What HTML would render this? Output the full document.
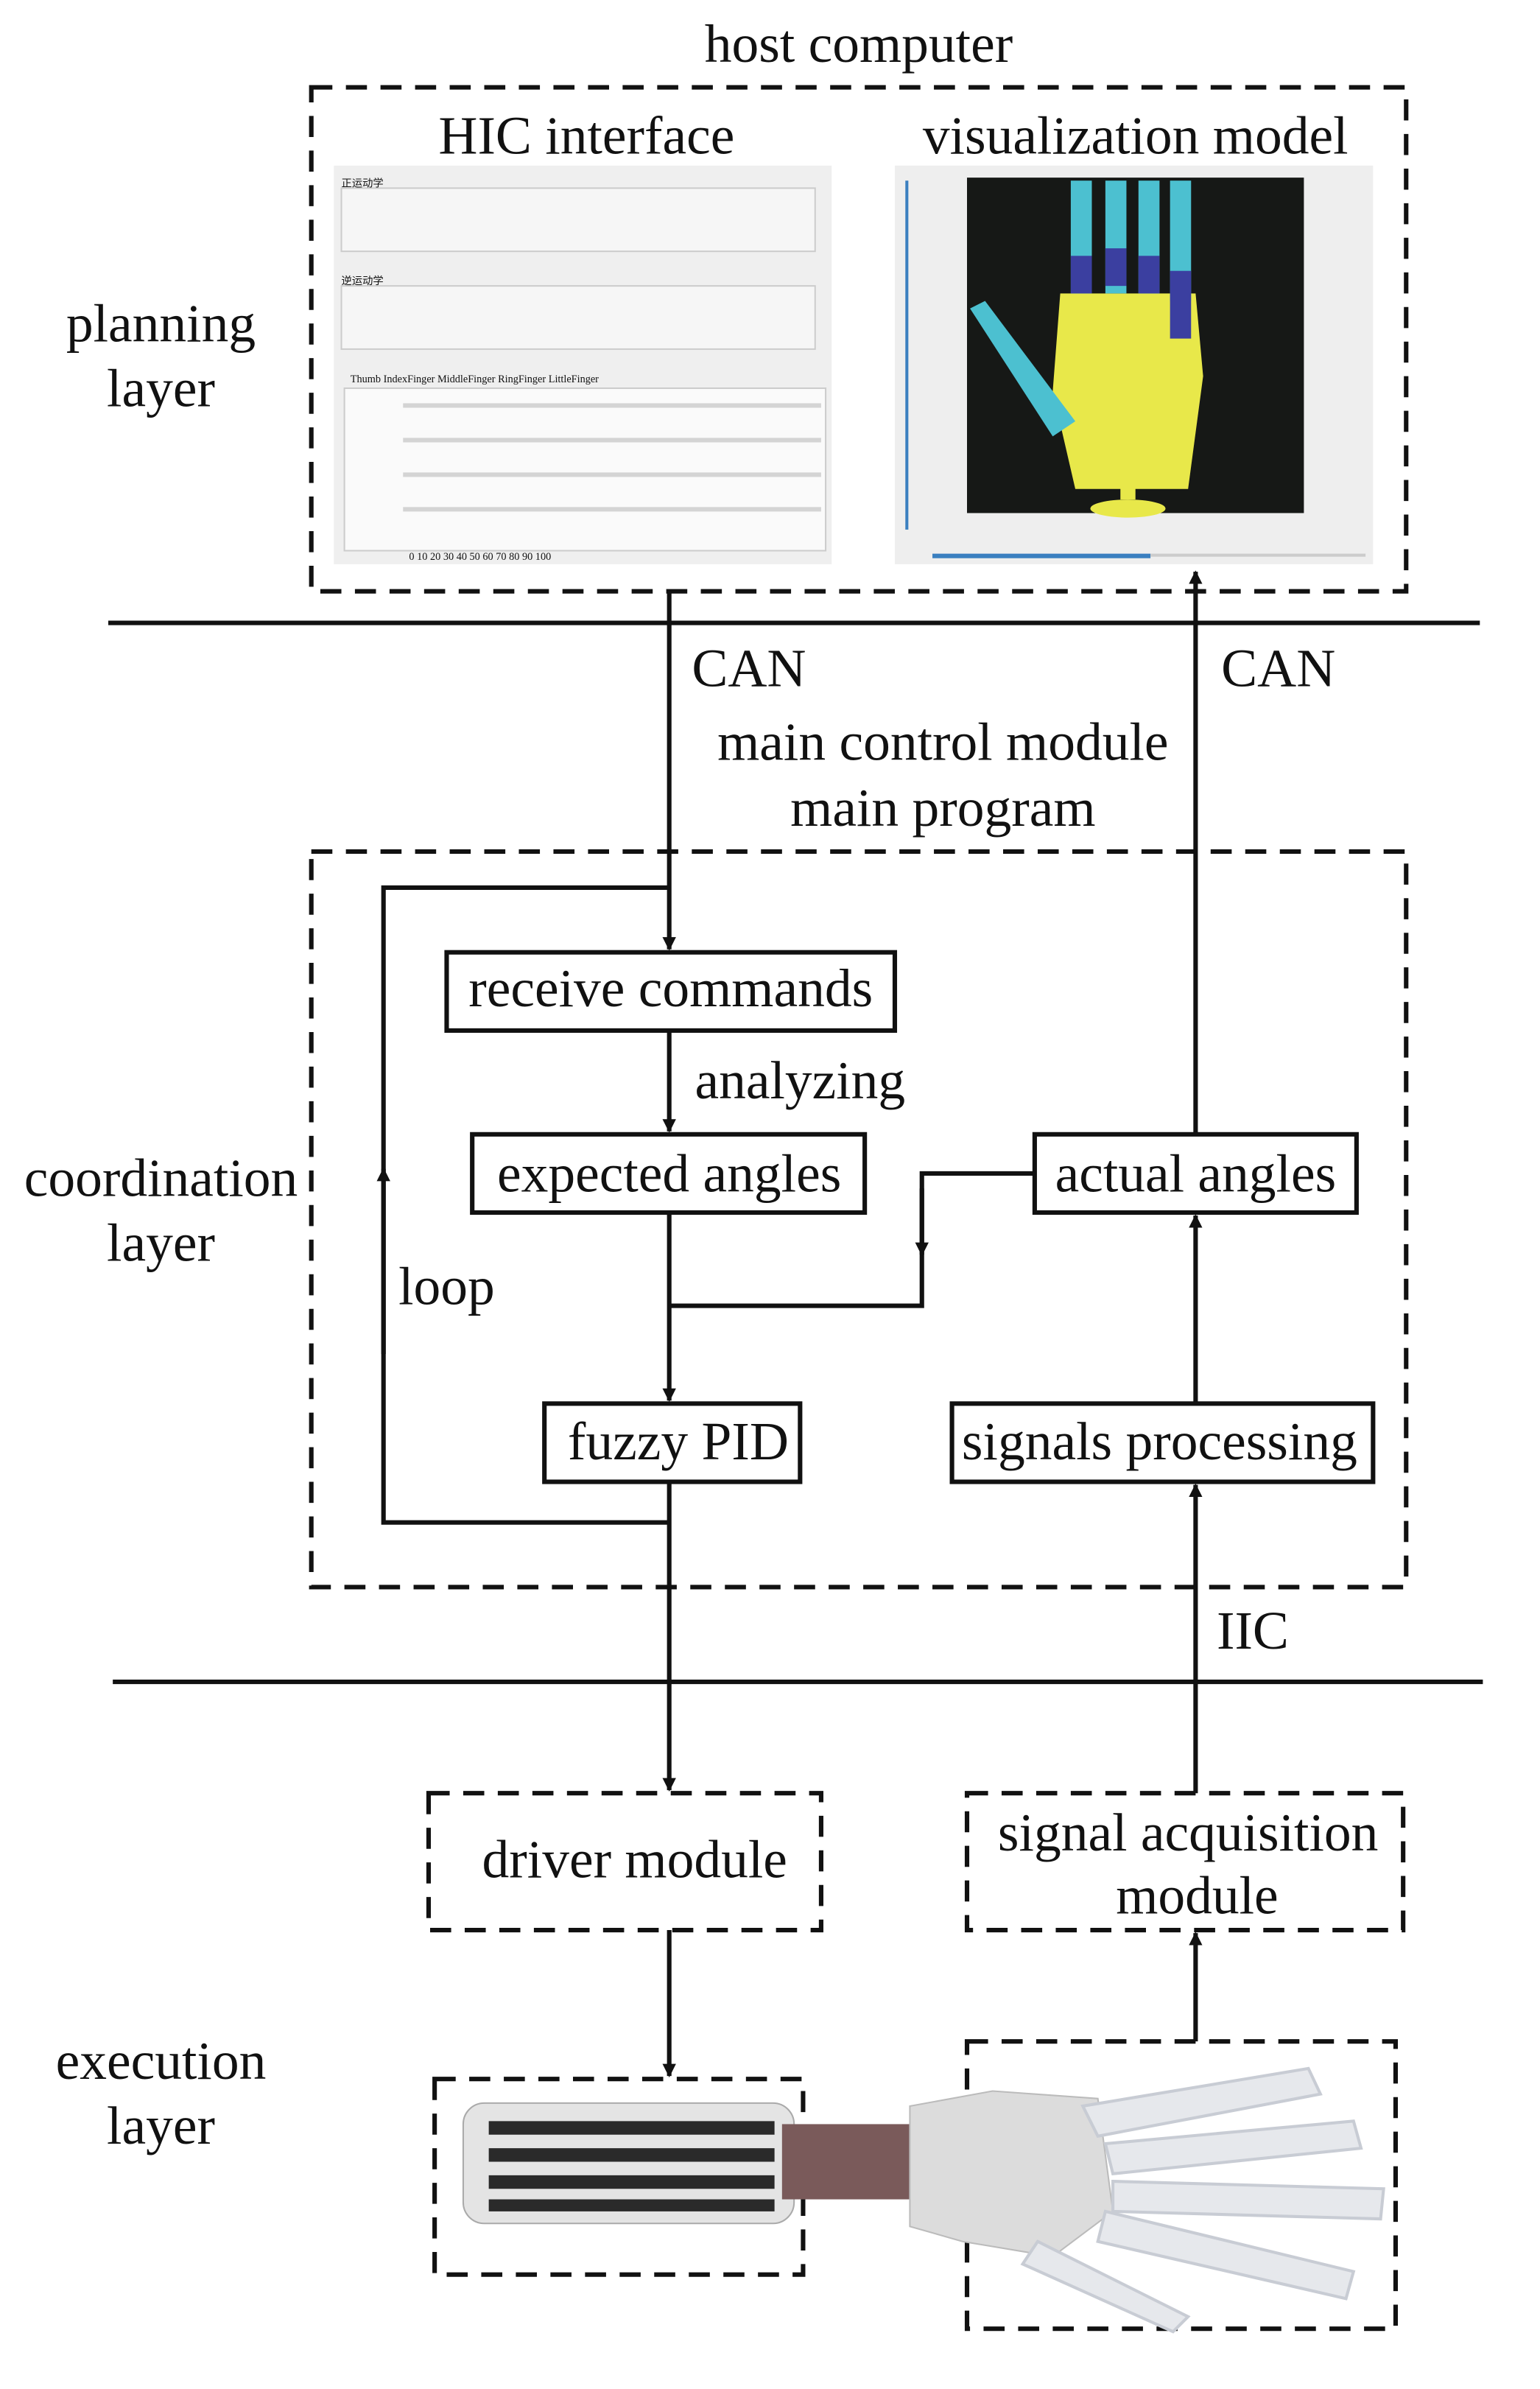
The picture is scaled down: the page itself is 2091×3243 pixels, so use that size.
<!DOCTYPE html>
<html><head><meta charset="utf-8"><style>
html,body{margin:0;padding:0;background:#fff}
svg{display:block}
text{font-family:"Liberation Serif",serif;fill:#111}
</style></head><body>
<svg width="2091" height="3243" viewBox="0 0 1024 1588" xmlns="http://www.w3.org/2000/svg">
<defs>
<marker id="ar" viewBox="0 0 10 10" refX="9" refY="5" markerWidth="9" markerHeight="14" orient="auto" markerUnits="userSpaceOnUse">
<path d="M0,0 L10,5 L0,10 z" fill="#111"/></marker>
</defs>
<g font-size="36" text-anchor="middle">
<text x="571" y="41">host computer</text>
<text x="390" y="102">HIC interface</text>
<text x="755" y="102">visualization model</text>
<text x="107" y="227">planning</text>
<text x="107" y="270">layer</text>
<text x="498" y="456">CAN</text>
<text x="850" y="456">CAN</text>
<text x="627" y="505">main control module</text>
<text x="627" y="549">main program</text>
<text x="107" y="795">coordination</text>
<text x="107" y="838">layer</text>
<text x="297" y="867">loop</text>
<text x="532" y="730">analyzing</text>
<text x="833" y="1096">IIC</text>
<text x="107" y="1382">execution</text>
<text x="107" y="1425">layer</text>
<text x="446" y="669">receive commands</text>
<text x="445" y="792">expected angles</text>
<text x="795" y="792">actual angles</text>
<text x="451" y="970">fuzzy PID</text>
<text x="771" y="970">signals processing</text>
<text x="422" y="1248">driver module</text>
<text x="790" y="1230">signal acquisition</text>
<text x="796" y="1272">module</text>
</g>
<g fill="none" stroke="#111" stroke-width="3" stroke-dasharray="14,9">
<rect x="207" y="58" width="728" height="335"/>
<rect x="207" y="566" width="728" height="489"/>
<rect x="285" y="1192" width="261" height="91"/>
<rect x="643" y="1192" width="290" height="91"/>
<rect x="289" y="1382" width="245" height="130"/>
<rect x="643" y="1357" width="285" height="191"/>
</g>
<rect x="222" y="110" width="331" height="265" fill="#efefef"/>
<rect x="227" y="125" width="315" height="42" fill="#f6f6f6" stroke="#ccc"/>
<rect x="227" y="190" width="315" height="42" fill="#f6f6f6" stroke="#ccc"/>
<rect x="229" y="258" width="320" height="108" fill="#fafafa" stroke="#ccc"/>
<g fill="#d4d4d4"><rect x="268" y="268" width="278" height="3"/><rect x="268" y="291" width="278" height="3"/><rect x="268" y="314" width="278" height="3"/><rect x="268" y="337" width="278" height="3"/></g>
<g font-size="7" font-family="Liberation Sans" fill="#333"><text x="227" y="124">正运动学</text><text x="227" y="189">逆运动学</text><text x="233" y="254">Thumb   IndexFinger   MiddleFinger   RingFinger   LittleFinger</text><text x="272" y="372">0     10     20     30     40     50     60     70     80     90    100</text></g>
<rect x="595" y="110" width="318" height="265" fill="#eeeeee"/>
<rect x="643" y="118" width="224" height="223" fill="#161816"/>
<rect x="602" y="120" width="2" height="232" fill="#3a7fc0"/>
<rect x="620" y="368" width="145" height="3" fill="#3a7fc0"/><rect x="765" y="368" width="143" height="2" fill="#ccc"/>
<polygon points="705,195 795,195 800,250 790,325 715,325 700,260" fill="#e8e84a"/>
<rect x="745" y="322" width="10" height="10" fill="#e8e84a"/><ellipse cx="750" cy="338" rx="25" ry="6" fill="#e8e84a"/>
<g fill="#4cc0d0"><rect x="712" y="120" width="14" height="75"/><rect x="735" y="120" width="14" height="75"/><rect x="757" y="120" width="14" height="75"/><rect x="778" y="120" width="14" height="80"/></g>
<g fill="#3b3fa0"><rect x="712" y="170" width="14" height="25"/><rect x="735" y="165" width="14" height="25"/><rect x="757" y="170" width="14" height="25"/><rect x="778" y="180" width="14" height="45"/></g>
<polygon points="645,205 655,200 715,280 700,290" fill="#4cc0d0"/>
<g stroke="#111" stroke-width="3" fill="none">
<line x1="72" y1="414" x2="984" y2="414"/>
<line x1="75" y1="1118" x2="986" y2="1118"/>
<line x1="445" y1="393" x2="445" y2="631" marker-end="url(#ar)"/>
<line x1="795" y1="754" x2="795" y2="380" marker-end="url(#ar)"/>
<polyline points="445,1012 255,1012 255,590 445,590"/>
<line x1="255" y1="900" x2="255" y2="777" marker-end="url(#ar)"/>
<line x1="445" y1="685" x2="445" y2="752" marker-end="url(#ar)"/>
<line x1="445" y1="806" x2="445" y2="931" marker-end="url(#ar)"/>
<polyline points="688,780 613,780 613,868 445,868"/>
<line x1="613" y1="790" x2="613" y2="834" marker-end="url(#ar)"/>
<line x1="795" y1="933" x2="795" y2="808" marker-end="url(#ar)"/>
<line x1="445" y1="985" x2="445" y2="1190" marker-end="url(#ar)"/>
<line x1="795" y1="1192" x2="795" y2="987" marker-end="url(#ar)"/>
<line x1="445" y1="1283" x2="445" y2="1380" marker-end="url(#ar)"/>
<line x1="795" y1="1357" x2="795" y2="1285" marker-end="url(#ar)"/>
<rect x="297" y="633" width="298" height="52"/>
<rect x="314" y="754" width="261" height="52"/>
<rect x="688" y="754" width="214" height="52"/>
<rect x="362" y="933" width="170" height="52"/>
<rect x="633" y="933" width="280" height="52"/>
</g>
<rect x="308" y="1398" width="220" height="80" rx="14" fill="#e4e4e4" stroke="#aaa"/>
<g fill="#2a2a2a"><rect x="325" y="1410" width="190" height="9"/><rect x="325" y="1428" width="190" height="9"/><rect x="325" y="1446" width="190" height="9"/><rect x="325" y="1462" width="190" height="8"/></g>
<rect x="520" y="1412" width="90" height="50" fill="#7a5a5a"/>
<polygon points="605,1400 660,1390 730,1395 740,1470 700,1500 640,1490 605,1480" fill="#dcdcdc" stroke="#bbb"/>
<g fill="#e6e8ec" stroke="#c8ccd4" stroke-width="2">
<polygon points="720,1400 870,1375 878,1392 730,1420"/>
<polygon points="735,1425 900,1410 905,1428 740,1445"/>
<polygon points="740,1450 920,1455 918,1475 740,1470"/>
<polygon points="735,1470 900,1510 895,1528 730,1490"/>
<polygon points="690,1490 790,1540 780,1550 680,1505"/>
</g>
</svg>
</body></html>
